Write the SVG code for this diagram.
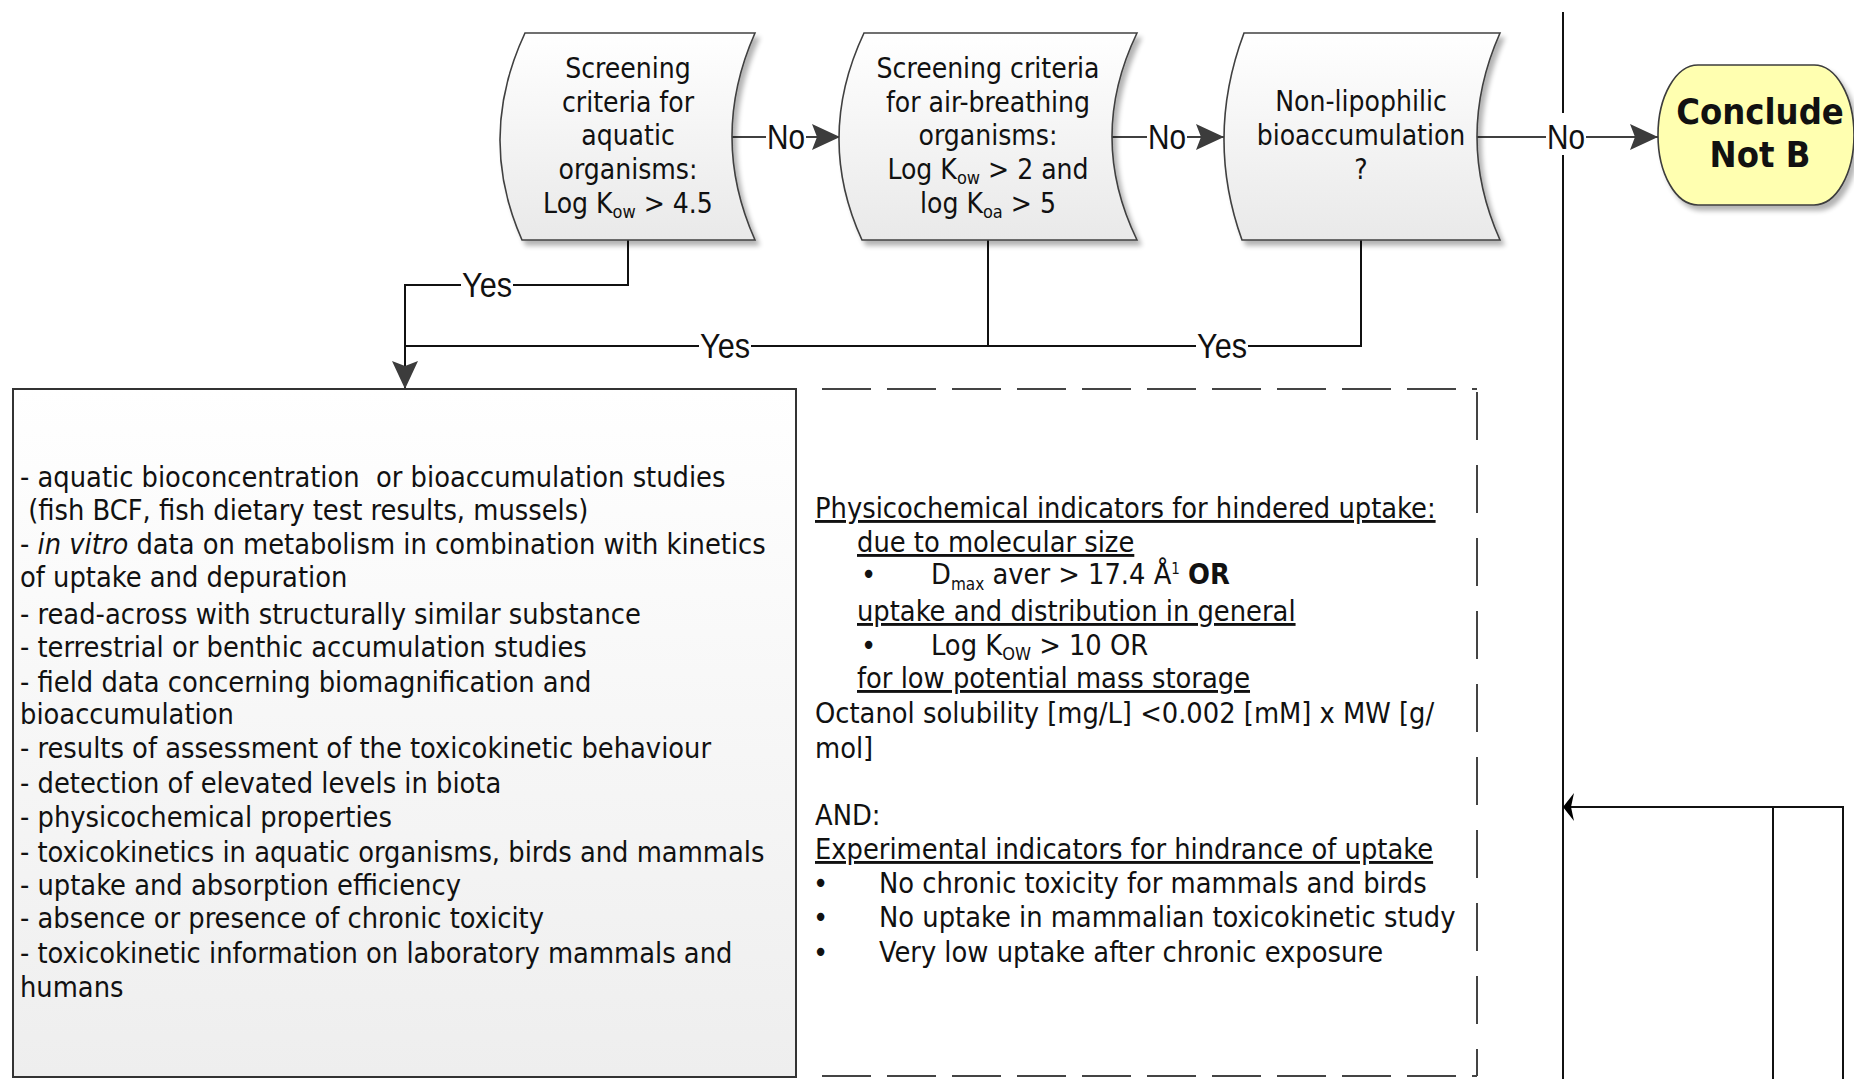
<svg xmlns="http://www.w3.org/2000/svg" width="1854" height="1079" viewBox="0 0 1854 1079">
<defs>
<style>
.t{font-family:"DejaVu Sans Condensed","DejaVu Sans",sans-serif;font-stretch:condensed;font-size:28px;fill:#111}
.b{font-size:28.7px;white-space:pre}
.c{text-anchor:middle}
.u{text-decoration:underline}
.lbl{font-family:"Liberation Sans Narrow","Liberation Sans",sans-serif;font-size:35px;fill:#111;text-anchor:middle}
.node{stroke:#404040;stroke-width:1.6;fill:url(#g)}
.no{stroke:#404040;stroke-width:2;fill:none}
.yes{stroke:#111;stroke-width:2;fill:none}
.bg{fill:#fff}
.dash{stroke:#444;stroke-width:2;fill:none}
</style>
<linearGradient id="g" x1="0" y1="0" x2="0" y2="1"><stop offset="0" stop-color="#ffffff"/><stop offset="1" stop-color="#e9e9e9"/></linearGradient>
<linearGradient id="g2" x1="0" y1="0" x2="0" y2="1"><stop offset="0" stop-color="#ffffff"/><stop offset="1" stop-color="#eeeeee"/></linearGradient>
<filter id="sh" x="-10%" y="-10%" width="130%" height="130%"><feGaussianBlur in="SourceAlpha" stdDeviation="2.5"/><feOffset dx="4" dy="5"/><feComponentTransfer><feFuncA type="linear" slope="0.3"/></feComponentTransfer><feMerge><feMergeNode/><feMergeNode in="SourceGraphic"/></feMerge></filter>
<marker id="arr" markerUnits="userSpaceOnUse" markerWidth="30" markerHeight="28" refX="28" refY="13" orient="auto"><path d="M0,0 L28,13 L0,26 L5,13 Z" fill="#3c3c3c"/></marker>
<marker id="arrs" markerUnits="userSpaceOnUse" markerWidth="14" markerHeight="30" refX="11" refY="14" orient="auto"><path d="M0,0 L11,14 L0,28 L3,14 Z" fill="#000"/></marker>
</defs>
<rect width="1854" height="1079" fill="#fff"/>

<g id="connectors">
<path class="no" d="M732,137 L840,137" marker-end="url(#arr)"/>
<path class="no" d="M1112,137 L1224,137" marker-end="url(#arr)"/>
<path class="yes" d="M1563,12 L1563,1079"/>
<path class="no" d="M1477,137 L1658,137" marker-end="url(#arr)"/>
<path class="yes" d="M628,240 L628,285 L405,285 L405,389" marker-end="url(#arr)"/>
<path class="yes" d="M988,240 L988,346 L405,346"/>
<path class="yes" d="M1361,240 L1361,346 L988,346"/>
<path class="yes" d="M1843,1079 L1843,807 L1563,807" marker-end="url(#arrs)"/>
<path class="yes" d="M1773,1079 L1773,807"/>
<rect class="bg" x="766" y="118" width="40" height="38"/>
<text class="lbl" x="786" y="149" textLength="38" lengthAdjust="spacingAndGlyphs">No</text>
<rect class="bg" x="1147" y="118" width="40" height="38"/>
<text class="lbl" x="1167" y="149" textLength="38" lengthAdjust="spacingAndGlyphs">No</text>
<rect class="bg" x="1546" y="113" width="40" height="42"/>
<text class="lbl" x="1566" y="149" textLength="38" lengthAdjust="spacingAndGlyphs">No</text>
<rect class="bg" x="461" y="268" width="52" height="36"/>
<text class="lbl" x="487" y="297" textLength="50" lengthAdjust="spacingAndGlyphs">Yes</text>
<rect class="bg" x="699" y="329" width="52" height="36"/>
<text class="lbl" x="725" y="358" textLength="50" lengthAdjust="spacingAndGlyphs">Yes</text>
<rect class="bg" x="1196" y="329" width="52" height="36"/>
<text class="lbl" x="1222" y="358" textLength="50" lengthAdjust="spacingAndGlyphs">Yes</text>
</g>

<g id="node-aquatic">
<path class="node" filter="url(#sh)" d="M525,33 L755,33 Q709,137 755,240 L522,240 Q476.5,137 525,33 Z"/>
<text class="t c" x="628" y="78">Screening</text>
<text class="t c" x="628" y="112">criteria for</text>
<text class="t c" x="628" y="145">aquatic</text>
<text class="t c" x="628" y="179">organisms:</text>
<text class="t c" x="628" y="213">Log K<tspan font-size="18" dy="5">ow</tspan><tspan dy="-5"> &gt; 4.5</tspan></text>
</g>

<g id="node-air">
<path class="node" filter="url(#sh)" d="M864,33 L1137,33 Q1087,137 1137,240 L862,240 Q815,137 864,33 Z"/>
<text class="t c" x="988" y="78">Screening criteria</text>
<text class="t c" x="988" y="112">for air-breathing</text>
<text class="t c" x="988" y="145">organisms:</text>
<text class="t c" x="988" y="179">Log K<tspan font-size="18" dy="5">ow</tspan><tspan dy="-5"> &gt; 2 and</tspan></text>
<text class="t c" x="988" y="213">log K<tspan font-size="18" dy="5">oa</tspan><tspan dy="-5"> &gt; 5</tspan></text>
</g>

<g id="node-nonlipo">
<path class="node" filter="url(#sh)" d="M1244,33 L1500,33 Q1454,137 1500,240 L1242,240 Q1205,137 1244,33 Z"/>
<text class="t c" x="1361" y="111">Non-lipophilic</text>
<text class="t c" x="1361" y="145">bioaccumulation</text>
<text class="t c" x="1361" y="179">?</text>
</g>

<g id="node-conclude">
<rect x="1658" y="65" width="196" height="140" rx="40" ry="70" fill="#ffffb0" stroke="#3c3c3c" stroke-width="1.6" filter="url(#sh)"/>
<text class="t c" x="1760" y="124" style="font-size:36px;font-weight:bold">Conclude</text>
<text class="t c" x="1760" y="167" style="font-size:36px;font-weight:bold">Not B</text>
</g>

<g id="node-evidence">
<rect x="13" y="389" width="783" height="688" fill="url(#g2)" stroke="#333" stroke-width="2"/>
<text class="t b" x="20" y="487">- aquatic bioconcentration  or bioaccumulation studies</text>
<text class="t b" x="20" y="520"> (fish BCF, fish dietary test results, mussels)</text>
<text class="t b" x="20" y="554">- <tspan font-style="italic">in vitro</tspan> data on metabolism in combination with kinetics</text>
<text class="t b" x="20" y="587">of uptake and depuration</text>
<text class="t b" x="20" y="624">- read-across with structurally similar substance</text>
<text class="t b" x="20" y="657">- terrestrial or benthic accumulation studies</text>
<text class="t b" x="20" y="692">- field data concerning biomagnification and</text>
<text class="t b" x="20" y="724">bioaccumulation</text>
<text class="t b" x="20" y="758">- results of assessment of the toxicokinetic behaviour</text>
<text class="t b" x="20" y="793">- detection of elevated levels in biota</text>
<text class="t b" x="20" y="827">- physicochemical properties</text>
<text class="t b" x="20" y="862">- toxicokinetics in aquatic organisms, birds and mammals</text>
<text class="t b" x="20" y="895">- uptake and absorption efficiency</text>
<text class="t b" x="20" y="928">- absence or presence of chronic toxicity</text>
<text class="t b" x="20" y="963">- toxicokinetic information on laboratory mammals and</text>
<text class="t b" x="20" y="997">humans</text>
</g>

<g id="node-hindered">
<rect x="797" y="389" width="680" height="687" fill="#fff"/>
<path class="dash" d="M822,389 L1477,389" stroke-dasharray="49 16"/>
<path class="dash" d="M1477,392 L1477,1076" stroke-dasharray="48 25"/>
<path class="dash" d="M822,1076 L1477,1076" stroke-dasharray="49 16"/>
<text class="t b u" x="815" y="518">Physicochemical indicators for hindered uptake:</text>
<text class="t b u" x="857" y="552">due to molecular size</text>
<text class="t b" x="861" y="584">•</text>
<text class="t b" x="931" y="584">D<tspan font-size="17" dy="6">max</tspan><tspan dy="-6"> aver &gt; 17.4 Å</tspan><tspan font-size="15" dy="-10">1</tspan><tspan dy="10"> </tspan><tspan font-weight="bold">OR</tspan></text>
<text class="t b u" x="857" y="621">uptake and distribution in general</text>
<text class="t b" x="861" y="655">•</text>
<text class="t b" x="931" y="655">Log K<tspan font-size="18" dy="5">OW</tspan><tspan dy="-5"> &gt; 10 OR</tspan></text>
<text class="t b u" x="857" y="688">for low potential mass storage</text>
<text class="t b" x="815" y="723">Octanol solubility [mg/L] &lt;0.002 [mM] x MW [g/</text>
<text class="t b" x="815" y="758">mol]</text>
<text class="t b" x="815" y="825">AND:</text>
<text class="t b u" x="815" y="859">Experimental indicators for hindrance of uptake</text>
<text class="t b" x="813" y="893">•</text>
<text class="t b" x="879" y="893">No chronic toxicity for mammals and birds</text>
<text class="t b" x="813" y="927">•</text>
<text class="t b" x="879" y="927">No uptake in mammalian toxicokinetic study</text>
<text class="t b" x="813" y="962">•</text>
<text class="t b" x="879" y="962">Very low uptake after chronic exposure</text>
</g>
</svg>
